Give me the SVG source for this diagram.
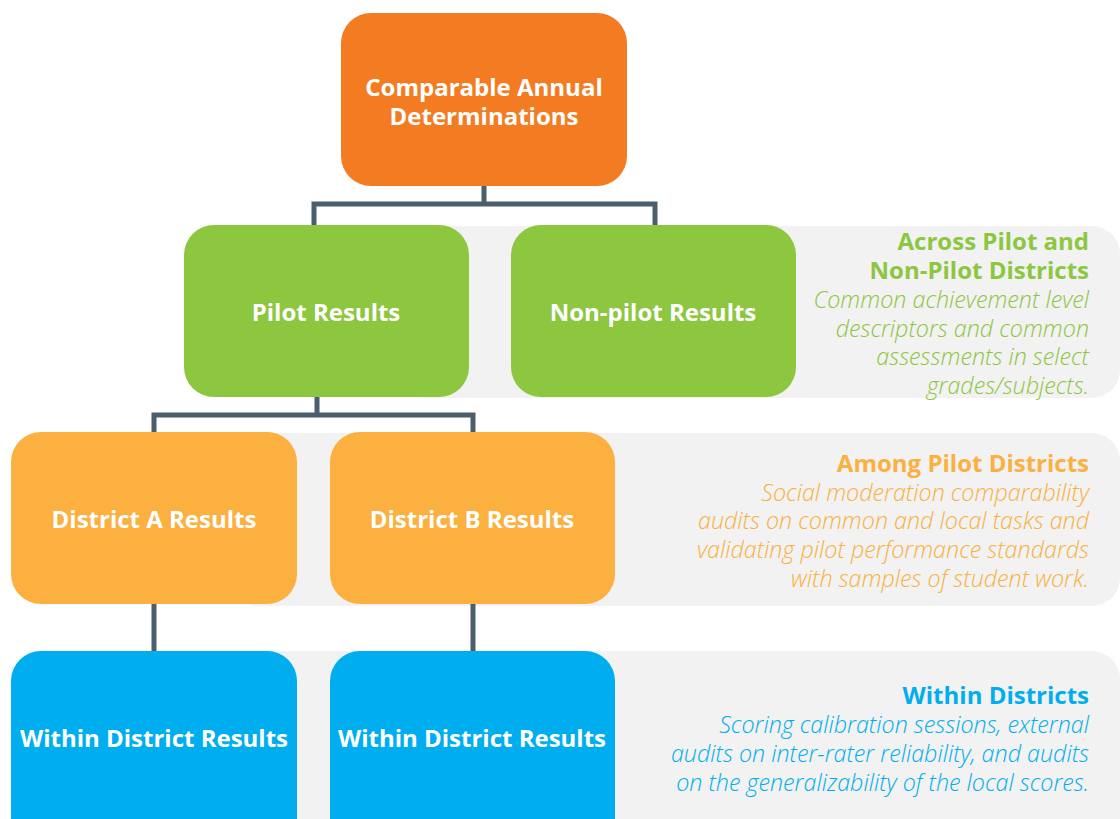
<svg xmlns="http://www.w3.org/2000/svg" width="1120" height="819" viewBox="0 0 1120 819">
<style>
.panel{fill:#f1f2f1}
.node text{font-family:"Open Sans","Liberation Sans",sans-serif;font-weight:700;font-size:24px;fill:#fff;text-anchor:middle}
.conn{fill:none;stroke:#4a5e6c;stroke-width:5}
.t{font-family:"Open Sans","Liberation Sans",sans-serif;font-weight:700;font-size:24px;text-anchor:end}
.d{font-family:"Open Sans","Liberation Sans",sans-serif;font-weight:300;font-style:italic;font-size:23.3px;text-anchor:end}
</style>
<rect width="1120" height="819" fill="#fff"/>
<g id="panels">
<rect class="panel" x="400" y="226" width="720" height="172" rx="28"/>
<rect class="panel" x="230" y="433" width="890" height="173" rx="28"/>
<rect class="panel" x="230" y="651" width="890" height="200" rx="28"/>
</g>
<g id="connectors">
<path class="conn" d="M484 186 V204 M314 225 V204 H655 V225"/>
<path class="conn" d="M317 397 V415 M154 432 V415 H473 V432"/>
<path class="conn" d="M154 604 V651 M473 604 V651"/>
</g>
<g id="n-top" class="node">
<rect x="341" y="13" width="286" height="173" rx="30" fill="#f37c22"/>
<text x="484" y="96">Comparable Annual</text>
<text x="484" y="125">Determinations</text>
</g>
<g id="n-pilot" class="node">
<rect x="184" y="225" width="285" height="172" rx="30" fill="#8dc63f"/>
<text x="326" y="321">Pilot Results</text>
</g>
<g id="n-nonpilot" class="node">
<rect x="511" y="225" width="285" height="172" rx="30" fill="#8dc63f"/>
<text x="653" y="321">Non-pilot Results</text>
</g>
<g id="n-distA" class="node">
<rect x="11" y="432" width="286" height="172" rx="30" fill="#fbb040"/>
<text x="154" y="528">District A Results</text>
</g>
<g id="n-distB" class="node">
<rect x="330" y="432" width="285" height="172" rx="30" fill="#fbb040"/>
<text x="472" y="528">District B Results</text>
</g>
<g id="n-withinA" class="node">
<rect x="11" y="651" width="286" height="200" rx="30" fill="#00aeef"/>
<text x="154" y="747">Within District Results</text>
</g>
<g id="n-withinB" class="node">
<rect x="330" y="651" width="285" height="200" rx="30" fill="#00aeef"/>
<text x="472" y="747">Within District Results</text>
</g>
<g id="desc-across" fill="#8dc63f">
<text class="t" x="1089" y="250">Across Pilot and</text>
<text class="t" x="1089" y="279">Non-Pilot Districts</text>
<text class="d" x="1089" y="308">Common achievement level</text>
<text class="d" x="1089" y="337">descriptors and common</text>
<text class="d" x="1089" y="365">assessments in select</text>
<text class="d" x="1089" y="394">grades/subjects.</text>
</g>
<g id="desc-among" fill="#fbb040">
<text class="t" x="1089" y="472">Among Pilot Districts</text>
<text class="d" x="1089" y="501">Social moderation comparability</text>
<text class="d" x="1089" y="529">audits on common and local tasks and</text>
<text class="d" x="1089" y="558">validating pilot performance standards</text>
<text class="d" x="1089" y="587">with samples of student work.</text>
</g>
<g id="desc-within" fill="#00aeef">
<text class="t" x="1089" y="704">Within Districts</text>
<text class="d" x="1089" y="733">Scoring calibration sessions, external</text>
<text class="d" x="1089" y="762">audits on inter-rater reliability, and audits</text>
<text class="d" x="1089" y="791">on the generalizability of the local scores.</text>
</g>
</svg>
